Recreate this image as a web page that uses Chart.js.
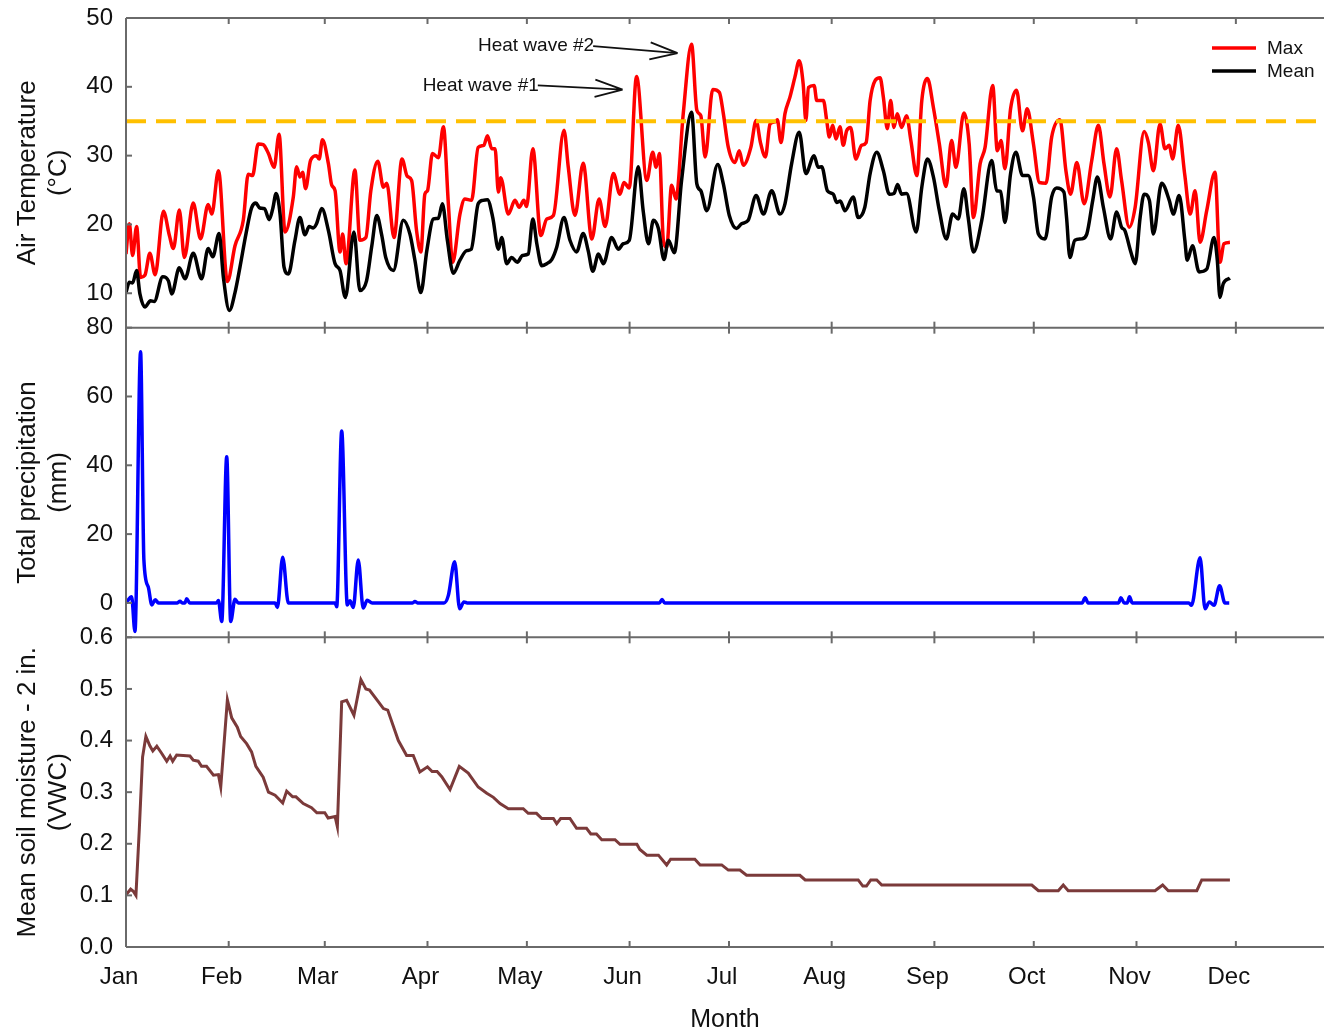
<!DOCTYPE html>
<html lang="en">
<head>
<meta charset="UTF-8">
<title>Air temperature, precipitation and soil moisture</title>
<script src="https://cdn.jsdelivr.net/npm/chart.js"></script>
<style>
    html, body { margin: 0; padding: 0; background: #fff; }
    #wrap { position: relative; width: 1324px; height: 1030px; overflow: hidden; }
</style>
</head>
<body>
<div id="wrap"><canvas id="weatherChart" width="1324" height="1030"></canvas></div>

<script>
    // day of year (0 = Jan 1, leap year) and values
    const monthNames = ['Jan', 'Feb', 'Mar', 'Apr', 'May', 'Jun', 'Jul', 'Aug', 'Sep', 'Oct', 'Nov', 'Dec'];
    const monthStart = [0, 31, 60, 91, 121, 152, 182, 213, 244, 274, 305, 335];

    const maxDay = [0, 1, 2, 3.2, 4.4, 5.7, 7.2, 8.8, 11.3, 13.1, 14.3, 16.1, 17.6, 20.3, 22.5, 24.8, 25.9, 27.9, 30.6, 32.9,
        35.4, 36.9, 38.2, 39.9, 41.4, 43, 44.7, 46.2, 48, 50.5, 51.5, 52.5, 53.3, 54.2, 55.7, 57.5, 58.3, 59.3, 61.1, 62.1,
        63.1, 64.6, 65.4, 66.4, 69.1, 70.6, 72.4, 73.9, 76, 77.7, 78.7, 80.9, 83.3, 84.9, 86.2, 87.7, 89, 90.2, 91, 92.5,
        94.3, 95.8, 97.3, 98.6, 100.8, 102.3, 104.3, 106.3, 108, 109.1, 110.4, 111.4, 112.4, 113.1, 115.4, 117.4, 118.7, 120.1, 120.9, 122.8,
        125.2, 127, 129, 132.2, 133.5, 135.5, 138, 140.6, 142.8, 144.6, 147.1, 149.1, 150.3, 151.9, 154.1, 157.2, 159, 160, 161, 162.2,
        163.2, 164.7, 166, 168.2, 170.7, 172.3, 173.5, 174.8, 177.1, 179.1, 180.3, 181.8, 183.8, 185.1, 186.3, 188.6, 190.2, 191.5, 193, 194.4,
        195.9, 196.6, 197.7, 198.9, 200.4, 201.9, 203.2, 204.4, 205.2, 206, 207.7, 208.5, 210.5, 211.5, 212.3, 213.3, 214.3, 215.5, 216.5, 217.5,
        218.7, 220.3, 222, 223.4, 224.6, 226.1, 227.6, 228.6, 229.8, 230.8, 231.8, 232.8, 234.1, 235.6, 236.9, 238.7, 240.2, 241.9, 243.7, 245.5,
        247.5, 249.2, 250.5, 252.9, 254.5, 255.8, 257.8, 259.3, 261.6, 263, 264.1, 265.3, 267, 268.8, 270.6, 272, 273.9, 275.7, 277.7, 279.4,
        281.9, 283.7, 285.1, 287, 289.2, 291.5, 293.5, 295.2, 297, 299, 300.5, 302.8, 304.6, 307.3, 308.6, 310.1, 312.1, 313.6, 314.9, 315.9,
        317.6, 319.6, 321.2, 322.7, 324.2, 326.2, 328.7, 330.2, 331.4, 333.2];
    const maxTemp = [15.7, 20.1, 15.5, 19.7, 12.3, 12.6, 15.8, 12.7, 21.9, 18.4, 16.5, 22.1, 15.2, 23.1, 17.9, 22.9, 21.5, 27.8, 11.7, 16.9,
        20.6, 27.3, 27.1, 31.7, 31.6, 30.3, 28.3, 33.1, 18.9, 24, 28.4, 26.9, 27.6, 25.2, 29.3, 30, 29.5, 32.3, 28.8, 25.7,
        24.9, 16, 18.6, 14.3, 27.9, 17.7, 18.1, 24.9, 29.2, 25.4, 26, 18.1, 29.5, 27, 26.4, 19.1, 16, 24.4, 24.9, 30.3,
        29.7, 34.2, 23, 14.5, 21.5, 23.7, 23.5, 31.2, 31.5, 32.9, 31, 31, 24.7, 26.8, 21.5, 23.5, 22.5, 23.5, 22.6, 31,
        18.4, 20.8, 21.3, 33.7, 28.3, 21.3, 28.9, 17.9, 23.7, 19.7, 27.4, 24.4, 26.1, 25.3, 41.5, 26.4, 30.5, 28.3, 30.3, 17.7,
        16.7, 25.7, 23.7, 36.1, 46.2, 36.6, 35.8, 29.8, 39.6, 39.2, 36.1, 31.2, 29, 30.7, 28.6, 31.2, 35.1, 31.9, 29.8, 34.6,
        34.9, 35.2, 31.9, 36.1, 38.5, 41.4, 43.8, 40.4, 35.1, 39.9, 40.2, 38, 38, 35.1, 32.7, 34.4, 32.4, 34.2, 31.5, 33.6,
        34.1, 29.5, 31.5, 31.9, 38, 40.9, 41.3, 38.5, 33.9, 38, 34.1, 36.1, 34.1, 35.8, 32.2, 27.1, 38, 41.2, 37, 31.7,
        25.5, 32.2, 28.3, 36.2, 31.7, 21, 28.8, 31.2, 40.2, 30.7, 32.2, 28.1, 36.8, 39.5, 33.6, 36.8, 31.7, 26.1, 26, 32.7,
        35.2, 27.8, 24.4, 29, 23, 29.3, 34.4, 28.8, 24, 31, 26.4, 19.6, 22.5, 33.5, 31.9, 27.8, 34.6, 31, 31.5, 29.5,
        34.4, 27.1, 21.5, 24.9, 17.4, 22, 27.6, 14.5, 17.2, 17.4];

    const meanDay = [0, 1, 2, 3.2, 4.2, 5.7, 7.4, 8.5, 11.1, 12.8, 13.8, 16.1, 17.8, 20.3, 22.8, 24.8, 26.2, 28.1, 29.4, 31.2,
        32.9, 34.4, 36.2, 37.9, 39.2, 40.4, 41.8, 43.2, 44.3, 45.3, 46.5, 47.7, 49, 51, 52.5, 54, 55.3, 56.5, 57.5, 59.1,
        61.1, 63.1, 64.6, 66.2, 68.8, 70.6, 72.6, 74.2, 75.7, 77.2, 78.4, 80.7, 83.7, 85.7, 87.2, 89, 90.8, 92.8, 94.3, 95.5,
        97, 98.8, 100.8, 102.8, 104.2, 106.3, 107.7, 109.1, 110.7, 112.4, 113.4, 114.9, 116.4, 118.1, 119.7, 121.4, 122.8, 124, 125.5, 127,
        128.5, 130, 132.2, 134, 136, 138, 139.5, 140.9, 142.6, 144.1, 146.6, 148.6, 150.1, 151.9, 154.6, 156.1, 157.7, 159.2, 160.7, 162.4,
        163.7, 165.5, 167.7, 170.7, 172.3, 173.5, 175.3, 178.6, 180.3, 182.1, 184.3, 185.8, 187.8, 190.2, 192.4, 194.9, 197.4, 198.9, 200.9, 203.2,
        205.2, 207.7, 208.9, 210, 211.7, 213.5, 214.5, 215.6, 217, 219.5, 221, 223, 224.6, 226.6, 228.6, 230.4, 231.8, 232.9, 234.1, 235.6,
        238.5, 240.2, 241.9, 243.7, 245.5, 247.6, 249.5, 251.2, 252.9, 254.2, 255.8, 258.3, 261.3, 262.8, 264, 265.3, 267, 268.6, 270.6, 272.3,
        273.9, 275.4, 277.4, 279.4, 280.9, 283.1, 283.9, 284.9, 286.4, 288.5, 290, 291.8, 293.2, 295, 297.2, 299, 300.5, 301.5, 303.3, 304.6,
        306.1, 307.3, 308.9, 310.1, 312.6, 314.9, 316.1, 317.9, 319.6, 320.3, 321.9, 323.9, 326.2, 328.4, 329.4, 330.2, 331.2, 333.2];
    const meanTemp = [10.1, 11.6, 11.5, 13.3, 9.9, 8, 8.9, 8.8, 12.4, 11.8, 9.9, 13.7, 12.1, 15.8, 12.1, 16.5, 15.3, 18.7, 12.3, 7.5,
        10.1, 13.8, 18.6, 22.4, 23.1, 22.4, 22.3, 20.7, 22.3, 24.5, 21.5, 13.8, 12.8, 17.7, 21, 18.5, 19.7, 19.5, 20.1, 22.3,
        19.1, 14.3, 13.3, 9.4, 18.9, 10.4, 11.8, 16.9, 21.3, 18.4, 15.2, 13.3, 20.6, 18.6, 14.8, 10.1, 16.2, 20.8, 20.9, 23,
        17.7, 12.9, 14.8, 16.2, 16.4, 23, 23.5, 23.6, 21, 16.4, 18.1, 14.3, 15.2, 14.5, 15.5, 15.7, 20.8, 17.2, 14, 14.3,
        14.9, 16.7, 21, 17.7, 16, 18.7, 16.2, 13.2, 15.7, 14.3, 18.1, 16.4, 17.2, 17.7, 28.4, 22, 17.2, 20.6, 19.4, 14.9,
        17.7, 15.9, 26.4, 36.3, 25.9, 24.9, 22, 28.7, 25.9, 21.3, 19.4, 20.1, 20.6, 24.2, 21.5, 24.9, 21.5, 23, 28.8, 33.4,
        27.4, 30, 28.3, 28.4, 24.9, 24.4, 23.2, 23.4, 22, 24, 21, 22.5, 27.4, 30.5, 27.8, 24.4, 24.5, 25.8, 24.4, 24.5,
        18.9, 25.4, 29.5, 26.9, 22, 17.9, 21.5, 20.8, 25.2, 21, 16, 20.6, 29.3, 24.9, 24.8, 20.3, 27.4, 30.5, 27.1, 27.1,
        24, 18.6, 17.9, 24, 25.3, 24.7, 21, 15.2, 17.7, 17.9, 18.6, 23.5, 26.9, 22.5, 17.9, 21.8, 19.6, 19.1, 16, 14.3,
        21, 24.4, 23.5, 18.6, 26, 23.5, 21.5, 24.2, 17.7, 14.8, 16.9, 13.1, 13.5, 18.1, 14.8, 9.4, 11.4, 12.2];

    const rainDay = [0, 1.7, 2.7, 4.4, 5.4, 6.7, 7.8, 8.8, 9.8, 15.5, 16.3, 17, 17.8, 18.3, 19.2, 27.3, 27.9, 28.9, 30.4, 31.6,
        32.9, 33.9, 45, 45.7, 47.3, 49, 63.1, 63.6, 65.1, 66.8, 67.6, 68.6, 70.1, 71.6, 72.8, 74.3, 86.5, 87.2, 88, 96,
        97.3, 99.2, 100.7, 102, 103, 161, 161.8, 162.6, 288.6, 289.5, 290.4, 299.6, 300.3, 301.3, 302.2, 302.9, 303.7, 320.8, 321.6, 324.2,
        325.7, 327, 328.4, 330.1, 331.7, 333];
    const rainMm = [0, 1.8, -8.3, 73, 12.5, 4.7, -0.6, 0.9, 0, 0, 0.5, 0, 0, 1.2, 0, 0, 0.7, -5.4, 42.5, -5.4,
        1.1, 0, 0, -1.3, 13.3, 0, 0, -1.1, 50, -0.6, 0.6, -1.3, 12.5, -1.5, 0.8, 0, 0, 0.4, 0, 0,
        2.2, 12, -1.7, 0.3, 0, 0, 1, 0, 0, 1.5, 0, 0, 1.5, 0, 0, 1.8, 0, 0, -0.7, 13.1,
        -1.7, 0.3, -0.7, 5, 0, 0];

    const soilDay = [0, 1.4, 2.2, 3, 4, 5, 6, 7.2, 8.1, 9.3, 10.8, 12.3, 13.3, 14.1, 15.3, 19.3, 20.3, 21.8, 22.8, 24.3,
        26.4, 27.9, 28.6, 30.6, 31.9, 33.6, 34.6, 36.4, 37.9, 39.2, 41.4, 43, 45, 47.3, 48.5, 50.3, 51.3, 53.5, 56, 57.6,
        60, 61, 63.1, 63.8, 65.1, 66.6, 68.8, 70.9, 72.4, 73.5, 76.2, 77.7, 79, 82.2, 84.7, 86.7, 88.7, 91, 92.4, 93.9,
        95.3, 97.8, 100.6, 103.3, 106.3, 108.9, 110.9, 112.9, 115.4, 119.9, 121.4, 123.9, 125.5, 129, 130, 131.2, 134, 136, 139, 140.3,
        142, 143.6, 147.6, 149.1, 154.2, 155.1, 157.2, 160.7, 163.2, 164.4, 171.7, 173.3, 179.8, 181.8, 185.3, 187.3, 203.4, 205, 221, 222.4,
        223.5, 224.8, 226.6, 228.1, 273.4, 275.4, 281.4, 282.9, 284.4, 310.6, 312.9, 314.6, 323.2, 324.7, 333.2];
    const soilVwc = [0.101, 0.112, 0.108, 0.1, 0.226, 0.368, 0.408, 0.39, 0.38, 0.389, 0.375, 0.36, 0.37, 0.36, 0.372, 0.37, 0.362, 0.36, 0.35, 0.35,
        0.333, 0.334, 0.31, 0.479, 0.444, 0.426, 0.408, 0.394, 0.378, 0.35, 0.329, 0.3, 0.294, 0.279, 0.302, 0.291, 0.291, 0.278, 0.27, 0.26,
        0.26, 0.25, 0.253, 0.233, 0.475, 0.478, 0.449, 0.518, 0.5, 0.498, 0.475, 0.462, 0.459, 0.4, 0.371, 0.371, 0.339, 0.349, 0.34, 0.34,
        0.33, 0.305, 0.35, 0.337, 0.31, 0.298, 0.29, 0.278, 0.268, 0.268, 0.259, 0.259, 0.249, 0.249, 0.239, 0.249, 0.249, 0.23, 0.23, 0.219,
        0.219, 0.208, 0.208, 0.199, 0.199, 0.189, 0.178, 0.178, 0.159, 0.17, 0.17, 0.159, 0.159, 0.149, 0.149, 0.139, 0.139, 0.13, 0.13, 0.118,
        0.118, 0.13, 0.13, 0.12, 0.12, 0.109, 0.109, 0.12, 0.109, 0.109, 0.12, 0.109, 0.109, 0.13, 0.13];

    const heatLimit = 35;
    const tempTicks = [10, 20, 30, 40, 50];
    const rainTicks = [0, 20, 40, 60, 80];
    const soilTicks = [0, 0.1, 0.2, 0.3, 0.4, 0.5, 0.6];

    const xEnd = 361.6;
    const axisGrey = '#6a6a6a';
    const FONT = 'Arial, "Liberation Sans", sans-serif';

    Chart.defaults.font.family = FONT;
    Chart.defaults.color = '#111';

    function toPoints(days, vals) {
        return days.map((d, i) => ({ x: d, y: vals[i] }));
    }

    function fixedTicks(list) {
        return function (scale) {
            scale.ticks = list.map(v => ({ value: v }));
        };
    }

    function yAxis(min, max, ticks, title, fmt) {
        return {
            type: 'linear',
            position: 'left',
            stack: 'panels',
            stackWeight: 1,
            min: min,
            max: max,
            afterBuildTicks: fixedTicks(ticks),
            afterFit: (s) => {
                s.width = 126;
                // edge labels may overhang the panels, no extra room needed
                s.paddingTop = 0;
                s.paddingBottom = 0;
            },
            grid: { display: false, drawTicks: false },
            border: { display: false },
            ticks: {
                autoSkip: false,
                padding: 13,
                font: { size: 24 },
                color: '#111',
                callback: fmt || ((v) => v)
            },
            title: {
                display: true,
                text: title,
                font: { size: 26, lineHeight: 1.2 },
                color: '#111',
                padding: { top: 12, bottom: 0 }
            }
        };
    }

    // arrows pointing at the two heat wave peaks (day, °C)
    const notes = [
        { text: 'Heat wave #2', from: [141, 45.9], to: [166.5, 44.9] },
        { text: 'Heat wave #1', from: [124.3, 40.2], to: [149.9, 39.6] }
    ];

    const framePlugin = {
        id: 'frame',
        afterDatasetsDraw(chart) {
            const { ctx, chartArea: a, scales } = chart;
            const x = scales.x;
            const seg = (x1, y1, x2, y2) => {
                ctx.beginPath(); ctx.moveTo(x1, y1); ctx.lineTo(x2, y2); ctx.stroke();
            };
            ctx.save();
            ctx.strokeStyle = axisGrey;
            ctx.lineWidth = 2;
            seg(a.left, a.top, a.left, a.bottom);
            ['yTemp', 'yRain', 'ySoil'].forEach(id => {
                const s = scales[id];
                seg(a.left, s.top, a.right, s.top);
                s.ticks.forEach(t => {
                    const py = s.getPixelForValue(t.value);
                    seg(a.left, py, a.left + 6, py);
                });
                monthStart.forEach(d => {
                    const px = x.getPixelForValue(d);
                    seg(px, s.top, px, s.top + 6);
                    seg(px, s.bottom - 6, px, s.bottom);
                });
            });
            seg(a.left, a.bottom, a.right, a.bottom);
            ctx.restore();
        },
        afterDraw(chart) {
            const { ctx, chartArea: a, scales } = chart;
            const x = scales.x, y = scales.yTemp;
            ctx.save();

            // legend, top right
            const keys = chart.data.datasets.filter(ds => ds.label === 'Max' || ds.label === 'Mean');
            keys.sort((p, q) => (p.label === 'Max' ? -1 : 1));
            ctx.font = '19px ' + FONT;
            ctx.textBaseline = 'middle';
            ctx.textAlign = 'left';
            keys.forEach((ds, i) => {
                const ly = a.top + 30 + i * 23;
                ctx.strokeStyle = ds.borderColor;
                ctx.lineWidth = 3.5;
                ctx.beginPath();
                ctx.moveTo(a.right - 112, ly);
                ctx.lineTo(a.right - 68, ly);
                ctx.stroke();
                ctx.fillStyle = '#111';
                ctx.fillText(ds.label, a.right - 57, ly + 1);
            });

            // heat wave labels
            ctx.strokeStyle = '#111';
            ctx.fillStyle = '#111';
            ctx.lineWidth = 1.8;
            ctx.textAlign = 'right';
            notes.forEach(n => {
                const x1 = x.getPixelForValue(n.from[0]), y1 = y.getPixelForValue(n.from[1]);
                const x2 = x.getPixelForValue(n.to[0]), y2 = y.getPixelForValue(n.to[1]);
                ctx.fillText(n.text, x1 + 1, y1);
                ctx.beginPath();
                ctx.moveTo(x1, y1);
                ctx.lineTo(x2, y2);
                const ang = Math.atan2(y2 - y1, x2 - x1);
                [0.3, -0.3].forEach(da => {
                    ctx.moveTo(x2, y2);
                    ctx.lineTo(x2 - 29 * Math.cos(ang + da), y2 - 29 * Math.sin(ang + da));
                });
                ctx.stroke();
            });
            ctx.restore();
        }
    };

    const ctx = document.getElementById('weatherChart').getContext('2d');
    const weatherChart = new Chart(ctx, {
        type: 'line',
        data: {
            datasets: [
                {
                    label: 'Heat limit',
                    data: [{ x: 0, y: heatLimit }, { x: xEnd, y: heatLimit }],
                    yAxisID: 'yTemp',
                    borderColor: '#ffc000',
                    borderWidth: 4,
                    borderDash: [20, 10],
                    pointRadius: 0,
                    order: 0
                },
                {
                    label: 'Mean',
                    data: toPoints(meanDay, meanTemp),
                    yAxisID: 'yTemp',
                    borderColor: '#000000',
                    borderWidth: 3.5,
                    pointRadius: 0,
                    cubicInterpolationMode: 'monotone',
                    order: 1
                },
                {
                    label: 'Max',
                    data: toPoints(maxDay, maxTemp),
                    yAxisID: 'yTemp',
                    borderColor: '#ff0000',
                    borderWidth: 3.5,
                    pointRadius: 0,
                    cubicInterpolationMode: 'monotone',
                    order: 2
                },
                {
                    label: 'Total precipitation',
                    data: toPoints(rainDay, rainMm),
                    yAxisID: 'yRain',
                    borderColor: '#0000ff',
                    borderWidth: 3.5,
                    pointRadius: 0,
                    cubicInterpolationMode: 'monotone',
                    order: 3
                },
                {
                    label: 'Soil moisture',
                    data: toPoints(soilDay, soilVwc),
                    yAxisID: 'ySoil',
                    borderColor: '#7b3a3a',
                    borderWidth: 3,
                    pointRadius: 0,
                    tension: 0,
                    order: 4
                }
            ]
        },
        options: {
            responsive: false,
            animation: false,
            layout: { padding: { top: 18, right: 0, bottom: 0, left: 0 } },
            plugins: {
                legend: { display: false },
                tooltip: { enabled: false }
            },
            scales: {
                x: {
                    type: 'linear',
                    position: 'bottom',
                    min: 0,
                    max: xEnd,
                    afterBuildTicks: fixedTicks(monthStart),
                    afterFit: (s) => {
                        s.height = 83;
                        s.paddingLeft = 0;
                        s.paddingRight = 0;
                    },
                    grid: { display: false, drawTicks: false },
                    border: { display: false },
                    ticks: {
                        autoSkip: false,
                        maxRotation: 0,
                        padding: 16,
                        labelOffset: -7,
                        font: { size: 24 },
                        color: '#111',
                        callback: (v) => monthNames[monthStart.indexOf(v)]
                    },
                    title: {
                        display: true,
                        text: 'Month',
                        font: { size: 25, lineHeight: 0.76 },
                        color: '#111',
                        padding: { top: 0, bottom: 0 }
                    }
                },
                ySoil: yAxis(0, 0.6, soilTicks, ['Mean soil moisture - 2 in.', '(VWC)'], (v) => v.toFixed(1)),
                yRain: yAxis(-10, 80, rainTicks, ['Total precipitation', '(mm)']),
                yTemp: yAxis(5, 50, tempTicks, ['Air Temperature', '(\u00B0C)'])
            }
        },
        plugins: [framePlugin]
    });
</script>
</body>
</html>
